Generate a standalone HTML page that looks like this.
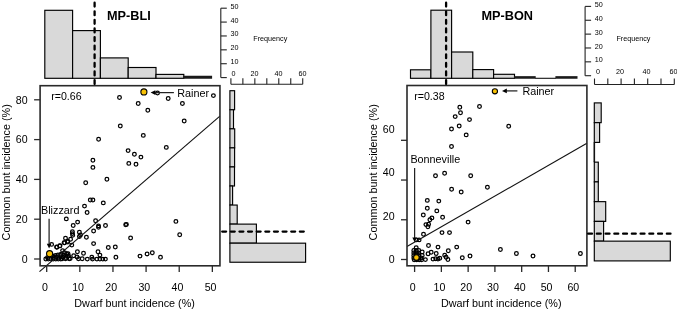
<!DOCTYPE html>
<html><head><meta charset="utf-8"><style>
html,body{margin:0;padding:0;background:#fff;}
svg{display:block;}
text{font-family:"Liberation Sans", sans-serif;fill:#000;}
</style></head><body>
<div style="position:relative;width:677px;height:311px;overflow:hidden">
<svg width="677" height="311" viewBox="0 0 677 311" style="position:absolute;left:0;top:0">
<rect width="677" height="311" fill="#fff"/>
<rect x="44.80" y="10.30" width="27.80" height="68.00" fill="#d9d9d9" stroke="#000" stroke-width="1.15"/>
<rect x="72.60" y="30.60" width="27.80" height="47.70" fill="#d9d9d9" stroke="#000" stroke-width="1.15"/>
<rect x="100.40" y="57.90" width="27.80" height="20.40" fill="#d9d9d9" stroke="#000" stroke-width="1.15"/>
<rect x="128.20" y="67.50" width="27.80" height="10.80" fill="#d9d9d9" stroke="#000" stroke-width="1.15"/>
<rect x="156.00" y="74.40" width="27.80" height="3.90" fill="#d9d9d9" stroke="#000" stroke-width="1.15"/>
<rect x="183.30" y="75.75" width="28.80" height="3.00" fill="#1a1a1a"/>
<line x1="220.80" y1="8.20" x2="220.80" y2="77.60" stroke="#222" stroke-width="1.1" />
<line x1="220.80" y1="8.20" x2="226.80" y2="8.20" stroke="#222" stroke-width="1.1" />
<line x1="220.80" y1="22.08" x2="226.80" y2="22.08" stroke="#222" stroke-width="1.1" />
<line x1="220.80" y1="35.96" x2="226.80" y2="35.96" stroke="#222" stroke-width="1.1" />
<line x1="220.80" y1="49.84" x2="226.80" y2="49.84" stroke="#222" stroke-width="1.1" />
<line x1="220.80" y1="63.72" x2="226.80" y2="63.72" stroke="#222" stroke-width="1.1" />
<line x1="220.80" y1="77.60" x2="226.80" y2="77.60" stroke="#222" stroke-width="1.1" />
<line x1="230.90" y1="84.30" x2="302.72" y2="84.30" stroke="#222" stroke-width="1.1" />
<line x1="230.90" y1="84.30" x2="230.90" y2="78.30" stroke="#222" stroke-width="1.1" />
<line x1="242.87" y1="84.30" x2="242.87" y2="78.30" stroke="#222" stroke-width="1.1" />
<line x1="254.84" y1="84.30" x2="254.84" y2="78.30" stroke="#222" stroke-width="1.1" />
<line x1="266.81" y1="84.30" x2="266.81" y2="78.30" stroke="#222" stroke-width="1.1" />
<line x1="278.78" y1="84.30" x2="278.78" y2="78.30" stroke="#222" stroke-width="1.1" />
<line x1="290.75" y1="84.30" x2="290.75" y2="78.30" stroke="#222" stroke-width="1.1" />
<line x1="302.72" y1="84.30" x2="302.72" y2="78.30" stroke="#222" stroke-width="1.1" />
<rect x="229.90" y="90.70" width="4.70" height="19.06" fill="#d9d9d9" stroke="#000" stroke-width="1.15"/>
<rect x="229.90" y="109.76" width="3.60" height="19.06" fill="#d9d9d9" stroke="#000" stroke-width="1.15"/>
<rect x="229.90" y="128.82" width="4.80" height="19.06" fill="#d9d9d9" stroke="#000" stroke-width="1.15"/>
<rect x="229.90" y="147.88" width="4.70" height="19.06" fill="#d9d9d9" stroke="#000" stroke-width="1.15"/>
<rect x="229.90" y="166.94" width="4.60" height="19.06" fill="#d9d9d9" stroke="#000" stroke-width="1.15"/>
<rect x="229.90" y="186.00" width="2.70" height="19.06" fill="#d9d9d9" stroke="#000" stroke-width="1.15"/>
<rect x="229.90" y="205.06" width="7.30" height="19.06" fill="#d9d9d9" stroke="#000" stroke-width="1.15"/>
<rect x="229.90" y="224.12" width="26.50" height="19.06" fill="#d9d9d9" stroke="#000" stroke-width="1.15"/>
<rect x="229.90" y="243.18" width="75.70" height="19.06" fill="#d9d9d9" stroke="#000" stroke-width="1.15"/>
<circle cx="119.50" cy="97.40" r="1.85" fill="none" stroke="#000" stroke-width="1.25"/>
<circle cx="157.50" cy="93.00" r="1.85" fill="none" stroke="#000" stroke-width="1.25"/>
<circle cx="213.40" cy="95.60" r="1.85" fill="none" stroke="#000" stroke-width="1.25"/>
<circle cx="168.20" cy="98.40" r="1.85" fill="none" stroke="#000" stroke-width="1.25"/>
<circle cx="138.20" cy="103.50" r="1.85" fill="none" stroke="#000" stroke-width="1.25"/>
<circle cx="182.40" cy="103.50" r="1.85" fill="none" stroke="#000" stroke-width="1.25"/>
<circle cx="147.80" cy="110.30" r="1.85" fill="none" stroke="#000" stroke-width="1.25"/>
<circle cx="184.20" cy="121.00" r="1.85" fill="none" stroke="#000" stroke-width="1.25"/>
<circle cx="120.30" cy="126.00" r="1.85" fill="none" stroke="#000" stroke-width="1.25"/>
<circle cx="98.60" cy="139.30" r="1.85" fill="none" stroke="#000" stroke-width="1.25"/>
<circle cx="143.30" cy="135.40" r="1.85" fill="none" stroke="#000" stroke-width="1.25"/>
<circle cx="128.10" cy="150.60" r="1.85" fill="none" stroke="#000" stroke-width="1.25"/>
<circle cx="166.30" cy="147.40" r="1.85" fill="none" stroke="#000" stroke-width="1.25"/>
<circle cx="134.40" cy="154.30" r="1.85" fill="none" stroke="#000" stroke-width="1.25"/>
<circle cx="140.90" cy="157.10" r="1.85" fill="none" stroke="#000" stroke-width="1.25"/>
<circle cx="92.90" cy="160.30" r="1.85" fill="none" stroke="#000" stroke-width="1.25"/>
<circle cx="128.80" cy="163.40" r="1.85" fill="none" stroke="#000" stroke-width="1.25"/>
<circle cx="136.00" cy="164.30" r="1.85" fill="none" stroke="#000" stroke-width="1.25"/>
<circle cx="92.90" cy="167.40" r="1.85" fill="none" stroke="#000" stroke-width="1.25"/>
<circle cx="106.90" cy="179.30" r="1.85" fill="none" stroke="#000" stroke-width="1.25"/>
<circle cx="85.70" cy="182.70" r="1.85" fill="none" stroke="#000" stroke-width="1.25"/>
<circle cx="90.30" cy="200.00" r="1.85" fill="none" stroke="#000" stroke-width="1.25"/>
<circle cx="92.90" cy="200.00" r="1.85" fill="none" stroke="#000" stroke-width="1.25"/>
<circle cx="103.30" cy="202.90" r="1.85" fill="none" stroke="#000" stroke-width="1.25"/>
<circle cx="84.50" cy="206.10" r="1.85" fill="none" stroke="#000" stroke-width="1.25"/>
<circle cx="87.10" cy="212.50" r="1.85" fill="none" stroke="#000" stroke-width="1.25"/>
<circle cx="66.30" cy="218.90" r="1.85" fill="none" stroke="#000" stroke-width="1.25"/>
<circle cx="77.60" cy="222.10" r="1.85" fill="none" stroke="#000" stroke-width="1.25"/>
<circle cx="73.20" cy="225.50" r="1.85" fill="none" stroke="#000" stroke-width="1.25"/>
<circle cx="95.60" cy="220.70" r="1.85" fill="none" stroke="#000" stroke-width="1.25"/>
<circle cx="98.50" cy="225.90" r="1.85" fill="none" stroke="#000" stroke-width="1.25"/>
<circle cx="98.50" cy="227.20" r="1.85" fill="none" stroke="#000" stroke-width="1.25"/>
<circle cx="105.50" cy="225.50" r="1.85" fill="none" stroke="#000" stroke-width="1.25"/>
<circle cx="125.70" cy="224.80" r="1.85" fill="none" stroke="#000" stroke-width="1.25"/>
<circle cx="126.40" cy="224.40" r="1.85" fill="none" stroke="#000" stroke-width="1.25"/>
<circle cx="175.90" cy="221.40" r="1.85" fill="none" stroke="#000" stroke-width="1.25"/>
<circle cx="179.70" cy="234.80" r="1.85" fill="none" stroke="#000" stroke-width="1.25"/>
<circle cx="130.60" cy="238.00" r="1.85" fill="none" stroke="#000" stroke-width="1.25"/>
<circle cx="72.40" cy="231.80" r="1.85" fill="none" stroke="#000" stroke-width="1.25"/>
<circle cx="72.40" cy="233.60" r="1.85" fill="none" stroke="#000" stroke-width="1.25"/>
<circle cx="72.70" cy="235.20" r="1.85" fill="none" stroke="#000" stroke-width="1.25"/>
<circle cx="79.40" cy="232.30" r="1.85" fill="none" stroke="#000" stroke-width="1.25"/>
<circle cx="79.40" cy="236.50" r="1.85" fill="none" stroke="#000" stroke-width="1.25"/>
<circle cx="80.50" cy="235.00" r="1.85" fill="none" stroke="#000" stroke-width="1.25"/>
<circle cx="86.40" cy="237.30" r="1.85" fill="none" stroke="#000" stroke-width="1.25"/>
<circle cx="93.60" cy="231.00" r="1.85" fill="none" stroke="#000" stroke-width="1.25"/>
<circle cx="93.60" cy="243.60" r="1.85" fill="none" stroke="#000" stroke-width="1.25"/>
<circle cx="70.60" cy="239.30" r="1.85" fill="none" stroke="#000" stroke-width="1.25"/>
<circle cx="65.50" cy="238.20" r="1.85" fill="none" stroke="#000" stroke-width="1.25"/>
<circle cx="67.50" cy="241.30" r="1.85" fill="none" stroke="#000" stroke-width="1.25"/>
<circle cx="64.10" cy="242.70" r="1.85" fill="none" stroke="#000" stroke-width="1.25"/>
<circle cx="60.00" cy="245.80" r="1.85" fill="none" stroke="#000" stroke-width="1.25"/>
<circle cx="56.90" cy="247.20" r="1.85" fill="none" stroke="#000" stroke-width="1.25"/>
<circle cx="51.60" cy="244.40" r="1.85" fill="none" stroke="#000" stroke-width="1.25"/>
<circle cx="71.80" cy="245.10" r="1.85" fill="none" stroke="#000" stroke-width="1.25"/>
<circle cx="62.60" cy="250.60" r="1.85" fill="none" stroke="#000" stroke-width="1.25"/>
<circle cx="108.30" cy="247.50" r="1.85" fill="none" stroke="#000" stroke-width="1.25"/>
<circle cx="115.30" cy="247.00" r="1.85" fill="none" stroke="#000" stroke-width="1.25"/>
<circle cx="98.00" cy="251.80" r="1.85" fill="none" stroke="#000" stroke-width="1.25"/>
<circle cx="99.90" cy="255.10" r="1.85" fill="none" stroke="#000" stroke-width="1.25"/>
<circle cx="77.40" cy="251.80" r="1.85" fill="none" stroke="#000" stroke-width="1.25"/>
<circle cx="83.50" cy="253.20" r="1.85" fill="none" stroke="#000" stroke-width="1.25"/>
<circle cx="115.90" cy="257.20" r="1.85" fill="none" stroke="#000" stroke-width="1.25"/>
<circle cx="140.00" cy="256.10" r="1.85" fill="none" stroke="#000" stroke-width="1.25"/>
<circle cx="147.10" cy="253.90" r="1.85" fill="none" stroke="#000" stroke-width="1.25"/>
<circle cx="152.30" cy="252.70" r="1.85" fill="none" stroke="#000" stroke-width="1.25"/>
<circle cx="160.50" cy="257.30" r="1.85" fill="none" stroke="#000" stroke-width="1.25"/>
<circle cx="73.70" cy="255.80" r="1.85" fill="none" stroke="#000" stroke-width="1.25"/>
<circle cx="77.00" cy="256.90" r="1.85" fill="none" stroke="#000" stroke-width="1.25"/>
<circle cx="78.50" cy="258.80" r="1.85" fill="none" stroke="#000" stroke-width="1.25"/>
<circle cx="82.20" cy="258.80" r="1.85" fill="none" stroke="#000" stroke-width="1.25"/>
<circle cx="87.30" cy="259.10" r="1.85" fill="none" stroke="#000" stroke-width="1.25"/>
<circle cx="91.80" cy="257.30" r="1.85" fill="none" stroke="#000" stroke-width="1.25"/>
<circle cx="92.50" cy="259.10" r="1.85" fill="none" stroke="#000" stroke-width="1.25"/>
<circle cx="96.90" cy="259.10" r="1.85" fill="none" stroke="#000" stroke-width="1.25"/>
<circle cx="99.90" cy="259.10" r="1.85" fill="none" stroke="#000" stroke-width="1.25"/>
<circle cx="102.80" cy="259.10" r="1.85" fill="none" stroke="#000" stroke-width="1.25"/>
<circle cx="105.40" cy="259.10" r="1.85" fill="none" stroke="#000" stroke-width="1.25"/>
<circle cx="61.10" cy="254.30" r="1.85" fill="none" stroke="#000" stroke-width="1.25"/>
<circle cx="63.70" cy="255.10" r="1.85" fill="none" stroke="#000" stroke-width="1.25"/>
<circle cx="66.60" cy="253.60" r="1.85" fill="none" stroke="#000" stroke-width="1.25"/>
<circle cx="67.40" cy="256.20" r="1.85" fill="none" stroke="#000" stroke-width="1.25"/>
<circle cx="69.20" cy="258.80" r="1.85" fill="none" stroke="#000" stroke-width="1.25"/>
<circle cx="62.20" cy="258.80" r="1.85" fill="none" stroke="#000" stroke-width="1.25"/>
<circle cx="65.50" cy="258.80" r="1.85" fill="none" stroke="#000" stroke-width="1.25"/>
<circle cx="45.80" cy="259.00" r="1.85" fill="none" stroke="#000" stroke-width="1.25"/>
<circle cx="48.30" cy="259.00" r="1.85" fill="none" stroke="#000" stroke-width="1.25"/>
<circle cx="50.80" cy="259.00" r="1.85" fill="none" stroke="#000" stroke-width="1.25"/>
<circle cx="53.30" cy="259.00" r="1.85" fill="none" stroke="#000" stroke-width="1.25"/>
<circle cx="55.80" cy="259.00" r="1.85" fill="none" stroke="#000" stroke-width="1.25"/>
<circle cx="58.30" cy="259.00" r="1.85" fill="none" stroke="#000" stroke-width="1.25"/>
<circle cx="60.80" cy="259.00" r="1.85" fill="none" stroke="#000" stroke-width="1.25"/>
<circle cx="52.50" cy="256.00" r="1.85" fill="none" stroke="#000" stroke-width="1.25"/>
<circle cx="55.50" cy="255.50" r="1.85" fill="none" stroke="#000" stroke-width="1.25"/>
<circle cx="58.00" cy="254.90" r="1.85" fill="none" stroke="#000" stroke-width="1.25"/>
<circle cx="60.50" cy="255.50" r="1.85" fill="none" stroke="#000" stroke-width="1.25"/>
<circle cx="56.00" cy="257.00" r="1.85" fill="none" stroke="#000" stroke-width="1.25"/>
<circle cx="58.50" cy="257.20" r="1.85" fill="none" stroke="#000" stroke-width="1.25"/>
<circle cx="63.00" cy="257.20" r="1.85" fill="none" stroke="#000" stroke-width="1.25"/>
<circle cx="66.00" cy="257.40" r="1.85" fill="none" stroke="#000" stroke-width="1.25"/>
<circle cx="68.50" cy="256.00" r="1.85" fill="none" stroke="#000" stroke-width="1.25"/>
<circle cx="70.20" cy="258.60" r="1.85" fill="none" stroke="#000" stroke-width="1.25"/>
<circle cx="64.50" cy="252.60" r="1.85" fill="none" stroke="#000" stroke-width="1.25"/>
<circle cx="68.00" cy="253.60" r="1.85" fill="none" stroke="#000" stroke-width="1.25"/>
<circle cx="54.00" cy="257.50" r="1.85" fill="none" stroke="#000" stroke-width="1.25"/>
<circle cx="47.50" cy="257.80" r="1.85" fill="none" stroke="#000" stroke-width="1.25"/>
<circle cx="56.60" cy="247.00" r="1.85" fill="none" stroke="#000" stroke-width="1.25"/>
<circle cx="59.70" cy="245.90" r="1.85" fill="none" stroke="#000" stroke-width="1.25"/>
<circle cx="64.70" cy="242.80" r="1.85" fill="none" stroke="#000" stroke-width="1.25"/>
<circle cx="67.80" cy="242.00" r="1.85" fill="none" stroke="#000" stroke-width="1.25"/>
<line x1="39.50" y1="271.70" x2="219.90" y2="116.20" stroke="#111" stroke-width="1.1" />
<circle cx="143.90" cy="91.90" r="3.05" fill="#f7c104" stroke="#000" stroke-width="1.1"/>
<circle cx="49.60" cy="253.70" r="3.05" fill="#f7c104" stroke="#000" stroke-width="1.1"/>
<line x1="49.10" y1="218.70" x2="49.10" y2="245.00" stroke="#222" stroke-width="1.25" />
<line x1="154.00" y1="92.60" x2="173.90" y2="92.60" stroke="#222" stroke-width="1.25" />
<polygon points="46.8,243.8 51.4,243.8 49.1,248.5" fill="#000"/>
<polygon points="150.6,92.6 155.4,90.3 155.4,94.9" fill="#000"/>
<rect x="40.1" y="85.7" width="179.85" height="180.10000000000002" fill="none" stroke="#2a2a2a" stroke-width="1.6"/>
<line x1="46.70" y1="265.80" x2="46.70" y2="272.00" stroke="#2a2a2a" stroke-width="1.3" />
<line x1="79.83" y1="265.80" x2="79.83" y2="272.00" stroke="#2a2a2a" stroke-width="1.3" />
<line x1="112.96" y1="265.80" x2="112.96" y2="272.00" stroke="#2a2a2a" stroke-width="1.3" />
<line x1="146.09" y1="265.80" x2="146.09" y2="272.00" stroke="#2a2a2a" stroke-width="1.3" />
<line x1="179.22" y1="265.80" x2="179.22" y2="272.00" stroke="#2a2a2a" stroke-width="1.3" />
<line x1="212.35" y1="265.80" x2="212.35" y2="272.00" stroke="#2a2a2a" stroke-width="1.3" />
<line x1="34.10" y1="259.00" x2="40.10" y2="259.00" stroke="#2a2a2a" stroke-width="1.3" />
<line x1="34.10" y1="219.20" x2="40.10" y2="219.20" stroke="#2a2a2a" stroke-width="1.3" />
<line x1="34.10" y1="179.40" x2="40.10" y2="179.40" stroke="#2a2a2a" stroke-width="1.3" />
<line x1="34.10" y1="139.60" x2="40.10" y2="139.60" stroke="#2a2a2a" stroke-width="1.3" />
<line x1="34.10" y1="99.80" x2="40.10" y2="99.80" stroke="#2a2a2a" stroke-width="1.3" />
<line x1="94.6" y1="2.7" x2="94.6" y2="85.0" stroke="#000" stroke-width="2.3" stroke-dasharray="3.9 4.7" stroke-linecap="round"/>
<line x1="222.2" y1="231.6" x2="305.0" y2="231.6" stroke="#000" stroke-width="2.3" stroke-dasharray="3.9 4.73" stroke-linecap="round"/>
<rect x="410.50" y="69.80" width="20.40" height="8.50" fill="#d9d9d9" stroke="#000" stroke-width="1.15"/>
<rect x="430.90" y="10.20" width="20.70" height="68.10" fill="#d9d9d9" stroke="#000" stroke-width="1.15"/>
<rect x="451.60" y="52.00" width="21.20" height="26.30" fill="#d9d9d9" stroke="#000" stroke-width="1.15"/>
<rect x="472.80" y="69.60" width="20.80" height="8.70" fill="#d9d9d9" stroke="#000" stroke-width="1.15"/>
<rect x="493.60" y="74.30" width="20.90" height="4.00" fill="#d9d9d9" stroke="#000" stroke-width="1.15"/>
<rect x="514.00" y="76.15" width="21.70" height="2.60" fill="#1a1a1a"/>
<line x1="535.20" y1="78.30" x2="555.90" y2="78.30" stroke="#111" stroke-width="1.1" />
<rect x="555.40" y="76.15" width="22.10" height="2.60" fill="#1a1a1a"/>
<line x1="585.10" y1="6.40" x2="585.10" y2="75.70" stroke="#222" stroke-width="1.1" />
<line x1="585.10" y1="6.40" x2="591.10" y2="6.40" stroke="#222" stroke-width="1.1" />
<line x1="585.10" y1="20.26" x2="591.10" y2="20.26" stroke="#222" stroke-width="1.1" />
<line x1="585.10" y1="34.12" x2="591.10" y2="34.12" stroke="#222" stroke-width="1.1" />
<line x1="585.10" y1="47.98" x2="591.10" y2="47.98" stroke="#222" stroke-width="1.1" />
<line x1="585.10" y1="61.84" x2="591.10" y2="61.84" stroke="#222" stroke-width="1.1" />
<line x1="585.10" y1="75.70" x2="591.10" y2="75.70" stroke="#222" stroke-width="1.1" />
<line x1="594.50" y1="84.50" x2="674.30" y2="84.50" stroke="#222" stroke-width="1.1" />
<line x1="594.50" y1="84.50" x2="594.50" y2="78.50" stroke="#222" stroke-width="1.1" />
<line x1="607.80" y1="84.50" x2="607.80" y2="78.50" stroke="#222" stroke-width="1.1" />
<line x1="621.10" y1="84.50" x2="621.10" y2="78.50" stroke="#222" stroke-width="1.1" />
<line x1="634.40" y1="84.50" x2="634.40" y2="78.50" stroke="#222" stroke-width="1.1" />
<line x1="647.70" y1="84.50" x2="647.70" y2="78.50" stroke="#222" stroke-width="1.1" />
<line x1="661.00" y1="84.50" x2="661.00" y2="78.50" stroke="#222" stroke-width="1.1" />
<line x1="674.30" y1="84.50" x2="674.30" y2="78.50" stroke="#222" stroke-width="1.1" />
<rect x="594.30" y="102.90" width="6.90" height="19.75" fill="#d9d9d9" stroke="#000" stroke-width="1.15"/>
<rect x="594.30" y="122.65" width="5.30" height="19.75" fill="#d9d9d9" stroke="#000" stroke-width="1.15"/>
<line x1="594.30" y1="142.40" x2="594.30" y2="162.15" stroke="#111" stroke-width="1.6" />
<rect x="594.30" y="162.15" width="4.00" height="19.75" fill="#d9d9d9" stroke="#000" stroke-width="1.15"/>
<rect x="594.30" y="181.90" width="4.00" height="19.75" fill="#d9d9d9" stroke="#000" stroke-width="1.15"/>
<rect x="594.30" y="201.65" width="11.40" height="19.75" fill="#d9d9d9" stroke="#000" stroke-width="1.15"/>
<rect x="594.30" y="221.40" width="9.30" height="19.75" fill="#d9d9d9" stroke="#000" stroke-width="1.15"/>
<rect x="594.30" y="241.15" width="76.00" height="19.75" fill="#d9d9d9" stroke="#000" stroke-width="1.15"/>
<circle cx="459.80" cy="107.30" r="1.85" fill="none" stroke="#000" stroke-width="1.25"/>
<circle cx="460.50" cy="112.70" r="1.85" fill="none" stroke="#000" stroke-width="1.25"/>
<circle cx="455.20" cy="116.60" r="1.85" fill="none" stroke="#000" stroke-width="1.25"/>
<circle cx="469.50" cy="119.60" r="1.85" fill="none" stroke="#000" stroke-width="1.25"/>
<circle cx="479.50" cy="106.50" r="1.85" fill="none" stroke="#000" stroke-width="1.25"/>
<circle cx="459.20" cy="126.00" r="1.85" fill="none" stroke="#000" stroke-width="1.25"/>
<circle cx="508.70" cy="126.30" r="1.85" fill="none" stroke="#000" stroke-width="1.25"/>
<circle cx="451.50" cy="128.90" r="1.85" fill="none" stroke="#000" stroke-width="1.25"/>
<circle cx="466.20" cy="134.90" r="1.85" fill="none" stroke="#000" stroke-width="1.25"/>
<circle cx="451.50" cy="146.50" r="1.85" fill="none" stroke="#000" stroke-width="1.25"/>
<circle cx="435.50" cy="175.80" r="1.85" fill="none" stroke="#000" stroke-width="1.25"/>
<circle cx="444.60" cy="173.20" r="1.85" fill="none" stroke="#000" stroke-width="1.25"/>
<circle cx="470.70" cy="175.80" r="1.85" fill="none" stroke="#000" stroke-width="1.25"/>
<circle cx="451.60" cy="189.30" r="1.85" fill="none" stroke="#000" stroke-width="1.25"/>
<circle cx="461.20" cy="192.00" r="1.85" fill="none" stroke="#000" stroke-width="1.25"/>
<circle cx="487.40" cy="187.30" r="1.85" fill="none" stroke="#000" stroke-width="1.25"/>
<circle cx="427.30" cy="200.40" r="1.85" fill="none" stroke="#000" stroke-width="1.25"/>
<circle cx="438.80" cy="201.10" r="1.85" fill="none" stroke="#000" stroke-width="1.25"/>
<circle cx="427.30" cy="208.20" r="1.85" fill="none" stroke="#000" stroke-width="1.25"/>
<circle cx="436.80" cy="210.90" r="1.85" fill="none" stroke="#000" stroke-width="1.25"/>
<circle cx="423.30" cy="215.00" r="1.85" fill="none" stroke="#000" stroke-width="1.25"/>
<circle cx="431.90" cy="217.90" r="1.85" fill="none" stroke="#000" stroke-width="1.25"/>
<circle cx="429.90" cy="219.70" r="1.85" fill="none" stroke="#000" stroke-width="1.25"/>
<circle cx="442.60" cy="217.30" r="1.85" fill="none" stroke="#000" stroke-width="1.25"/>
<circle cx="425.90" cy="224.60" r="1.85" fill="none" stroke="#000" stroke-width="1.25"/>
<circle cx="428.60" cy="224.20" r="1.85" fill="none" stroke="#000" stroke-width="1.25"/>
<circle cx="427.90" cy="226.80" r="1.85" fill="none" stroke="#000" stroke-width="1.25"/>
<circle cx="468.10" cy="222.10" r="1.85" fill="none" stroke="#000" stroke-width="1.25"/>
<circle cx="423.50" cy="234.20" r="1.85" fill="none" stroke="#000" stroke-width="1.25"/>
<circle cx="442.00" cy="232.60" r="1.85" fill="none" stroke="#000" stroke-width="1.25"/>
<circle cx="449.50" cy="232.60" r="1.85" fill="none" stroke="#000" stroke-width="1.25"/>
<circle cx="416.40" cy="239.90" r="1.85" fill="none" stroke="#000" stroke-width="1.25"/>
<circle cx="419.10" cy="239.90" r="1.85" fill="none" stroke="#000" stroke-width="1.25"/>
<circle cx="428.50" cy="245.50" r="1.85" fill="none" stroke="#000" stroke-width="1.25"/>
<circle cx="438.00" cy="247.10" r="1.85" fill="none" stroke="#000" stroke-width="1.25"/>
<circle cx="456.70" cy="247.10" r="1.85" fill="none" stroke="#000" stroke-width="1.25"/>
<circle cx="448.30" cy="250.70" r="1.85" fill="none" stroke="#000" stroke-width="1.25"/>
<circle cx="428.10" cy="253.70" r="1.85" fill="none" stroke="#000" stroke-width="1.25"/>
<circle cx="431.20" cy="252.30" r="1.85" fill="none" stroke="#000" stroke-width="1.25"/>
<circle cx="436.20" cy="253.50" r="1.85" fill="none" stroke="#000" stroke-width="1.25"/>
<circle cx="422.20" cy="251.90" r="1.85" fill="none" stroke="#000" stroke-width="1.25"/>
<circle cx="422.20" cy="255.50" r="1.85" fill="none" stroke="#000" stroke-width="1.25"/>
<circle cx="433.00" cy="259.10" r="1.85" fill="none" stroke="#000" stroke-width="1.25"/>
<circle cx="435.70" cy="258.70" r="1.85" fill="none" stroke="#000" stroke-width="1.25"/>
<circle cx="438.00" cy="259.10" r="1.85" fill="none" stroke="#000" stroke-width="1.25"/>
<circle cx="439.80" cy="258.20" r="1.85" fill="none" stroke="#000" stroke-width="1.25"/>
<circle cx="425.40" cy="259.60" r="1.85" fill="none" stroke="#000" stroke-width="1.25"/>
<circle cx="444.70" cy="255.30" r="1.85" fill="none" stroke="#000" stroke-width="1.25"/>
<circle cx="446.10" cy="257.30" r="1.85" fill="none" stroke="#000" stroke-width="1.25"/>
<circle cx="447.90" cy="259.40" r="1.85" fill="none" stroke="#000" stroke-width="1.25"/>
<circle cx="462.30" cy="257.80" r="1.85" fill="none" stroke="#000" stroke-width="1.25"/>
<circle cx="470.00" cy="256.00" r="1.85" fill="none" stroke="#000" stroke-width="1.25"/>
<circle cx="500.40" cy="249.50" r="1.85" fill="none" stroke="#000" stroke-width="1.25"/>
<circle cx="516.40" cy="253.50" r="1.85" fill="none" stroke="#000" stroke-width="1.25"/>
<circle cx="533.00" cy="256.00" r="1.85" fill="none" stroke="#000" stroke-width="1.25"/>
<circle cx="580.40" cy="253.50" r="1.85" fill="none" stroke="#000" stroke-width="1.25"/>
<circle cx="416.20" cy="247.60" r="1.85" fill="none" stroke="#000" stroke-width="1.25"/>
<circle cx="413.80" cy="250.50" r="1.85" fill="none" stroke="#000" stroke-width="1.25"/>
<circle cx="416.30" cy="250.50" r="1.85" fill="none" stroke="#000" stroke-width="1.25"/>
<circle cx="418.80" cy="250.50" r="1.85" fill="none" stroke="#000" stroke-width="1.25"/>
<circle cx="413.80" cy="253.00" r="1.85" fill="none" stroke="#000" stroke-width="1.25"/>
<circle cx="416.30" cy="253.00" r="1.85" fill="none" stroke="#000" stroke-width="1.25"/>
<circle cx="418.80" cy="253.00" r="1.85" fill="none" stroke="#000" stroke-width="1.25"/>
<circle cx="413.80" cy="255.50" r="1.85" fill="none" stroke="#000" stroke-width="1.25"/>
<circle cx="416.30" cy="255.50" r="1.85" fill="none" stroke="#000" stroke-width="1.25"/>
<circle cx="418.80" cy="255.50" r="1.85" fill="none" stroke="#000" stroke-width="1.25"/>
<circle cx="413.80" cy="258.00" r="1.85" fill="none" stroke="#000" stroke-width="1.25"/>
<circle cx="416.30" cy="258.00" r="1.85" fill="none" stroke="#000" stroke-width="1.25"/>
<circle cx="418.80" cy="258.00" r="1.85" fill="none" stroke="#000" stroke-width="1.25"/>
<circle cx="421.20" cy="258.00" r="1.85" fill="none" stroke="#000" stroke-width="1.25"/>
<circle cx="414.20" cy="259.80" r="1.85" fill="none" stroke="#000" stroke-width="1.25"/>
<circle cx="416.70" cy="259.80" r="1.85" fill="none" stroke="#000" stroke-width="1.25"/>
<circle cx="419.20" cy="259.80" r="1.85" fill="none" stroke="#000" stroke-width="1.25"/>
<circle cx="421.60" cy="259.80" r="1.85" fill="none" stroke="#000" stroke-width="1.25"/>
<line x1="407.00" y1="246.50" x2="586.90" y2="143.30" stroke="#111" stroke-width="1.1" />
<circle cx="494.90" cy="91.30" r="2.6" fill="#f7c104" stroke="#000" stroke-width="1.1"/>
<circle cx="416.40" cy="257.60" r="2.8" fill="#f7c104" stroke="#000" stroke-width="1.1"/>
<line x1="414.60" y1="168.00" x2="414.60" y2="239.00" stroke="#222" stroke-width="1.25" />
<line x1="505.50" y1="90.90" x2="517.40" y2="90.90" stroke="#222" stroke-width="1.25" />
<polygon points="412.3,237.4 416.9,237.4 414.6,242.0" fill="#000"/>
<polygon points="502.0,90.9 506.8,88.6 506.8,93.2" fill="#000"/>
<rect x="407.0" y="85.5" width="179.89999999999998" height="180.3" fill="none" stroke="#2a2a2a" stroke-width="1.6"/>
<line x1="414.60" y1="265.80" x2="414.60" y2="272.00" stroke="#2a2a2a" stroke-width="1.3" />
<line x1="441.37" y1="265.80" x2="441.37" y2="272.00" stroke="#2a2a2a" stroke-width="1.3" />
<line x1="468.14" y1="265.80" x2="468.14" y2="272.00" stroke="#2a2a2a" stroke-width="1.3" />
<line x1="494.91" y1="265.80" x2="494.91" y2="272.00" stroke="#2a2a2a" stroke-width="1.3" />
<line x1="521.68" y1="265.80" x2="521.68" y2="272.00" stroke="#2a2a2a" stroke-width="1.3" />
<line x1="548.45" y1="265.80" x2="548.45" y2="272.00" stroke="#2a2a2a" stroke-width="1.3" />
<line x1="575.22" y1="265.80" x2="575.22" y2="272.00" stroke="#2a2a2a" stroke-width="1.3" />
<line x1="401.00" y1="259.50" x2="407.00" y2="259.50" stroke="#2a2a2a" stroke-width="1.3" />
<line x1="401.00" y1="219.77" x2="407.00" y2="219.77" stroke="#2a2a2a" stroke-width="1.3" />
<line x1="401.00" y1="180.04" x2="407.00" y2="180.04" stroke="#2a2a2a" stroke-width="1.3" />
<line x1="401.00" y1="140.31" x2="407.00" y2="140.31" stroke="#2a2a2a" stroke-width="1.3" />
<line x1="446.1" y1="2.7" x2="446.1" y2="85.0" stroke="#000" stroke-width="2.3" stroke-dasharray="3.9 4.7" stroke-linecap="round"/>
<line x1="588.1" y1="233.7" x2="670.5" y2="233.7" stroke="#000" stroke-width="2.3" stroke-dasharray="3.9 4.85" stroke-linecap="round"/>
</svg>
<svg width="677" height="311" viewBox="0 0 677 311" style="position:absolute;left:0;top:0;will-change:transform">
<text x="230.50" y="8.70" font-size="7.2" text-anchor="start" font-weight="normal" >50</text>
<text x="230.50" y="22.50" font-size="7.2" text-anchor="start" font-weight="normal" >40</text>
<text x="230.50" y="36.20" font-size="7.2" text-anchor="start" font-weight="normal" >30</text>
<text x="230.50" y="50.10" font-size="7.2" text-anchor="start" font-weight="normal" >20</text>
<text x="230.50" y="64.30" font-size="7.2" text-anchor="start" font-weight="normal" >10</text>
<text x="233.60" y="75.90" font-size="7.2" text-anchor="middle" font-weight="normal" >0</text>
<text x="254.50" y="75.90" font-size="7.2" text-anchor="middle" font-weight="normal" >20</text>
<text x="278.50" y="75.90" font-size="7.2" text-anchor="middle" font-weight="normal" >40</text>
<text x="302.50" y="75.90" font-size="7.2" text-anchor="middle" font-weight="normal" >60</text>
<text x="253.30" y="41.20" font-size="7.2" text-anchor="start" font-weight="normal" >Frequency</text>
<text x="107.00" y="19.50" font-size="12.7" text-anchor="start" font-weight="bold" >MP-BLI</text>
<text x="41.00" y="213.70" font-size="10.8" text-anchor="start" font-weight="normal" >Blizzard</text>
<text x="177.30" y="96.70" font-size="10.8" text-anchor="start" font-weight="normal" >Rainer</text>
<text x="44.90" y="290.60" font-size="10.6" text-anchor="middle" font-weight="normal" >0</text>
<text x="78.03" y="290.60" font-size="10.6" text-anchor="middle" font-weight="normal" >10</text>
<text x="111.16" y="290.60" font-size="10.6" text-anchor="middle" font-weight="normal" >20</text>
<text x="144.29" y="290.60" font-size="10.6" text-anchor="middle" font-weight="normal" >30</text>
<text x="177.42" y="290.60" font-size="10.6" text-anchor="middle" font-weight="normal" >40</text>
<text x="210.55" y="290.60" font-size="10.6" text-anchor="middle" font-weight="normal" >50</text>
<text x="27.60" y="262.80" font-size="10.6" text-anchor="end" font-weight="normal" >0</text>
<text x="27.60" y="223.00" font-size="10.6" text-anchor="end" font-weight="normal" >20</text>
<text x="27.60" y="183.20" font-size="10.6" text-anchor="end" font-weight="normal" >40</text>
<text x="27.60" y="143.40" font-size="10.6" text-anchor="end" font-weight="normal" >60</text>
<text x="27.60" y="103.60" font-size="10.6" text-anchor="end" font-weight="normal" >80</text>
<text x="51.20" y="99.70" font-size="10.6" text-anchor="start" font-weight="normal" >r=0.66</text>
<text x="134.60" y="307.00" font-size="10.8" text-anchor="middle" font-weight="normal" >Dwarf bunt incidence (%)</text>
<text x="0" y="0" font-size="10.8" text-anchor="middle" transform="translate(9.6,172.3) rotate(-90)">Common bunt incidence (%)</text>
<text x="594.80" y="6.80" font-size="7.2" text-anchor="start" font-weight="normal" >50</text>
<text x="594.80" y="20.80" font-size="7.2" text-anchor="start" font-weight="normal" >40</text>
<text x="594.80" y="34.70" font-size="7.2" text-anchor="start" font-weight="normal" >30</text>
<text x="594.80" y="48.70" font-size="7.2" text-anchor="start" font-weight="normal" >20</text>
<text x="594.80" y="62.20" font-size="7.2" text-anchor="start" font-weight="normal" >10</text>
<text x="598.00" y="74.00" font-size="7.2" text-anchor="middle" font-weight="normal" >0</text>
<text x="619.90" y="74.00" font-size="7.2" text-anchor="middle" font-weight="normal" >20</text>
<text x="646.50" y="74.00" font-size="7.2" text-anchor="middle" font-weight="normal" >40</text>
<text x="673.50" y="74.00" font-size="7.2" text-anchor="middle" font-weight="normal" >60</text>
<text x="616.40" y="41.20" font-size="7.2" text-anchor="start" font-weight="normal" >Frequency</text>
<text x="481.50" y="19.50" font-size="12.7" text-anchor="start" font-weight="bold" >MP-BON</text>
<text x="410.40" y="163.10" font-size="10.8" text-anchor="start" font-weight="normal" >Bonneville</text>
<text x="522.40" y="95.40" font-size="10.8" text-anchor="start" font-weight="normal" >Rainer</text>
<text x="412.70" y="290.60" font-size="10.6" text-anchor="middle" font-weight="normal" >0</text>
<text x="439.47" y="290.60" font-size="10.6" text-anchor="middle" font-weight="normal" >10</text>
<text x="466.24" y="290.60" font-size="10.6" text-anchor="middle" font-weight="normal" >20</text>
<text x="493.01" y="290.60" font-size="10.6" text-anchor="middle" font-weight="normal" >30</text>
<text x="519.78" y="290.60" font-size="10.6" text-anchor="middle" font-weight="normal" >40</text>
<text x="546.55" y="290.60" font-size="10.6" text-anchor="middle" font-weight="normal" >50</text>
<text x="573.32" y="290.60" font-size="10.6" text-anchor="middle" font-weight="normal" >60</text>
<text x="394.60" y="262.60" font-size="10.6" text-anchor="end" font-weight="normal" >0</text>
<text x="394.60" y="219.70" font-size="10.6" text-anchor="end" font-weight="normal" >20</text>
<text x="394.60" y="176.30" font-size="10.6" text-anchor="end" font-weight="normal" >40</text>
<text x="394.60" y="133.30" font-size="10.6" text-anchor="end" font-weight="normal" >60</text>
<text x="414.20" y="99.60" font-size="10.6" text-anchor="start" font-weight="normal" >r=0.38</text>
<text x="501.20" y="307.00" font-size="10.8" text-anchor="middle" font-weight="normal" >Dwarf bunt incidence (%)</text>
<text x="0" y="0" font-size="10.8" text-anchor="middle" transform="translate(377.0,172.3) rotate(-90)">Common bunt incidence (%)</text>
</svg>
</div>
</body></html>
